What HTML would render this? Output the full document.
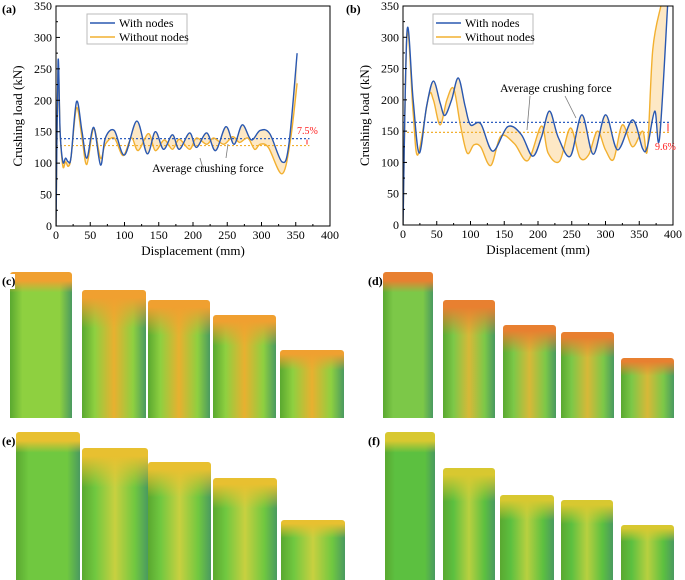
<!DOCTYPE html>
<html><head><meta charset="utf-8"><style>
body{margin:0;width:685px;height:580px;background:#fff;overflow:hidden;position:relative;font-family:"Liberation Serif",serif}
svg text{font-family:"Liberation Serif",serif}
.cyl{position:absolute;border-radius:3px 3px 0 0}
.lab{position:absolute;font-weight:bold;font-size:12px;background:#fff;z-index:2}
</style></head><body>
<svg id="chart" width="685" height="262" style="position:absolute;left:0;top:0"></svg>
<div id="sims"></div>
<script>
const ticksX=[0,50,100,150,200,250,300,350,400];
const ticksY=[0,50,100,150,200,250,300,350];
const aWithX=[0,3,6,10,14,18,22,30,38,45,55,65,72,85,100,118,133,145,157,170,180,195,205,220,233,248,260,272,285,298,312,330,340,352];
const aWithY=[0,262,150,102,108,102,110,198,150,108,157,97,140,152,113,167,115,150,122,145,122,148,125,148,120,158,130,161,137,152,147,102,130,275];
const aWoX=[0,3,6,10,14,18,22,30,38,45,55,65,72,85,98,110,120,135,145,158,170,180,195,205,220,230,245,258,268,280,290,298,310,330,342,352];
const aWoY=[0,250,150,95,102,95,110,188,140,98,155,108,130,140,112,140,120,147,120,137,122,138,122,140,130,140,130,142,133,140,122,130,125,83,135,227];
const bWithX=[0,6,15,24,35,45,55,62,72,82,92,100,115,133,155,175,192,205,217,230,248,265,282,300,318,340,355,362,373,380,392];
const bWithY=[0,310,200,115,190,230,195,175,200,235,190,160,162,118,157,145,110,140,182,140,110,176,113,176,120,168,122,125,182,138,350];
const bWoX=[0,6,15,22,38,45,55,65,75,85,95,105,115,130,145,165,185,205,215,232,248,262,275,288,300,312,325,340,355,362,370,382];
const bWoY=[0,305,180,112,205,200,160,200,218,160,115,128,125,95,142,130,103,158,115,102,155,108,112,150,120,105,160,125,150,120,280,350];
const avgA=[139,128];
const avgB=[164,148];
const NS="http://www.w3.org/2000/svg";
const svg=document.getElementById('chart');
function mk(t,a,p){const e=document.createElementNS(NS,t);for(const k in a)e.setAttribute(k,a[k]);(p||svg).appendChild(e);return e;}
function smooth(pts){let d="M"+pts[0][0]+","+pts[0][1];for(let i=0;i<pts.length-1;i++){const p0=pts[i-1]||pts[i],p1=pts[i],p2=pts[i+1],p3=pts[i+2]||p2;d+=" C"+(p1[0]+(p2[0]-p0[0])/6)+","+(p1[1]+(p2[1]-p0[1])/6)+" "+(p2[0]-(p3[0]-p1[0])/6)+","+(p2[1]-(p3[1]-p1[1])/6)+" "+p2[0]+","+p2[1];}return d;}
function chart(cfg){
 const x0=cfg.x0,x1=cfg.x1,y0=cfg.y0,y1=cfg.y1;
 const sx=v=>x0+v/400*(x1-x0), sy=v=>y1-Math.min(v,350)/350*(y1-y0);
 const g=mk('g',{});
 
 
 mk('defs',{},g).innerHTML=`<clipPath id="c${cfg.id}"><rect x="${x0}" y="${y0}" width="${x1-x0}" height="${y1-y0}"/></clipPath>`;
 const pg=mk('g',{'clip-path':`url(#c${cfg.id})`},g);
 const w=cfg.wx.map((v,i)=>[sx(v),sy(cfg.wy[i])]), o=cfg.ox.map((v,i)=>[sx(v),sy(cfg.oy[i])]);
 const wd=smooth(w), od=smooth(o.slice().reverse());
 const fill=mk('path',{d:wd+" L"+od.slice(1),fill:'#fde6bf','fill-rule':'evenodd',opacity:0.9},pg);
 
 
 const a1=mk('line',{x1:sx(0),x2:sx(cfg.ax),y1:sy(cfg.avg[0]),y2:sy(cfg.avg[0]),stroke:'#2f5fc0','stroke-dasharray':'2,2','stroke-width':1.2},pg);
 
 
 const a2=mk('line',{x1:sx(0),x2:sx(cfg.ax),y1:sy(cfg.avg[1]),y2:sy(cfg.avg[1]),stroke:'#f2b030','stroke-dasharray':'2,2','stroke-width':1.2},pg);
 
 
 const lo=mk('path',{d:smooth(o),fill:'none',stroke:'#f2b030','stroke-width':1.4},pg);
 
 
 const lw=mk('path',{d:wd,fill:'none',stroke:'#2a58b0','stroke-width':1.4},pg);
 
 
 mk('rect',{x:x0,y:y0,width:x1-x0,height:y1-y0,fill:'none',stroke:'#000','stroke-width':1},g);
 ticksX.forEach(t=>{mk('line',{x1:sx(t),x2:sx(t),y1:y1,y2:y1-4,stroke:'#000'},g);if(t<400)mk('line',{x1:sx(t+25),x2:sx(t+25),y1:y1,y2:y1-2,stroke:'#000'},g);
  const tx=mk('text',{x:sx(t),y:y1+13,'text-anchor':'middle','font-size':12},g);tx.textContent=t;});
 ticksY.forEach(t=>{mk('line',{x1:x0,x2:x0+4,y1:sy(t),y2:sy(t),stroke:'#000'},g);if(t<350)mk('line',{x1:x0,x2:x0+2,y1:sy(t+25),y2:sy(t+25),stroke:'#000'},g);
  const ty=mk('text',{x:x0-4,y:sy(t)+4,'text-anchor':'end','font-size':12},g);ty.textContent=t;});
 const xl=mk('text',{x:(x0+x1)/2,y:y1+29,'text-anchor':'middle','font-size':13},g);xl.textContent='Displacement (mm)';
 
 const yl=mk('text',{x:0,y:0,'text-anchor':'middle','font-size':13,transform:`translate(${x0-34},${(y0+y1)/2}) rotate(-90)`},g);yl.textContent='Crushing load (kN)';
 
 const pl=mk('text',{x:cfg.px,y:13,'font-size':12,'font-weight':'bold'},g);pl.textContent=cfg.panel;
 const lg=mk('g',{},g);
 mk('rect',{x:cfg.lx,y:14,width:100,height:30,fill:'#fff',stroke:'#bbb'},lg);
 mk('line',{x1:cfg.lx+3,x2:cfg.lx+28,y1:23,y2:23,stroke:'#2a58b0','stroke-width':1.5},lg);
 mk('line',{x1:cfg.lx+3,x2:cfg.lx+28,y1:37,y2:37,stroke:'#f2b030','stroke-width':1.5},lg);
 mk('text',{x:cfg.lx+32,y:27,'font-size':12},lg).textContent='With nodes';
 mk('text',{x:cfg.lx+32,y:41,'font-size':12},lg).textContent='Without nodes';
 mk('text',{x:cfg.ann[0],y:cfg.ann[1],'font-size':12},g).textContent='Average crushing force';
 cfg.arrows.forEach(a=>mk('line',{x1:a[0],y1:a[1],x2:a[2],y2:a[3],stroke:'#777','stroke-width':0.8},g));
 mk('text',{x:cfg.pc[0],y:cfg.pc[1],'font-size':10,fill:'#ff2020'},g).textContent=cfg.pct;
 mk('line',{x1:cfg.ra,x2:cfg.ra,y1:sy(cfg.avg[1])-1,y2:sy(cfg.avg[0])+1,stroke:'#ff2020','stroke-width':1},g);
}
chart({id:'a',name:'chart-a',x0:56,x1:330,y0:6,y1:226,wx:aWithX,wy:aWithY,ox:aWoX,oy:aWoY,avg:avgA,ax:370,panel:'(a)',px:2,lx:87,ann:[152,172],arrows:[[200,158,204,172],[228,144,226,158]],pc:[297,134],pct:'7.5%',ra:307});
chart({id:'b',name:'chart-b',x0:403,x1:673,y0:6,y1:225,wx:bWithX,wy:bWithY,ox:bWoX,oy:bWoY,avg:avgB,ax:395,panel:'(b)',px:346,lx:433,ann:[500,92],arrows:[[530,96,527,130],[565,96,576,118]],pc:[655,150],pct:'9.6%',ra:668});
const sims=document.getElementById('sims');
const cyl=[
 ['c',[[10,72,272,418],[82,146,290,418],[148,210,300,418],[213,276,315,418],[280,344,350,418]],'#f0a030','#8ed040','#e8b030'],
 ['d',[[383,433,272,418],[443,495,300,418],[503,556,325,418],[561,614,332,418],[621,674,358,418]],'#e88030','#7cc848','#d8b838'],
 ['e',[[16,80,432,580],[82,148,448,580],[148,211,462,580],[213,277,478,580],[281,345,520,580]],'#e8c030','#70c840','#c8d040'],
 ['f',[[385,435,432,580],[443,495,468,580],[500,554,495,580],[561,613,500,580],[621,674,525,580]],'#d8c830','#5cc040','#b8d040']];
cyl.forEach(r=>{
 const lab=document.createElement('div');lab.className='lab';
 
 
 const first=r[1][0];lab.style.left=(r[0]=='c'||r[0]=='e'?2:368)+'px';lab.style.top=(first[2]+2)+'px';lab.textContent='('+r[0]+')';sims.appendChild(lab);
 r[1].forEach((c,i)=>{const d=document.createElement('div');d.className='cyl';
  
  
  d.style.left=c[0]+'px';d.style.width=(c[1]-c[0])+'px';d.style.top=c[2]+'px';d.style.height=(c[3]-c[2])+'px';
  const mid=i==0?r[3]:r[4];
  d.style.background=`linear-gradient(180deg,${r[2]} 0,${r[2]} 6%,transparent ${i==0?14:30}%,transparent 100%),linear-gradient(90deg,#5aa830 0,${r[3]} 20%,${mid} 50%,${r[3]} 80%,#4a9a60 100%)`;
  sims.appendChild(d);});
});
</script>
</body></html>
